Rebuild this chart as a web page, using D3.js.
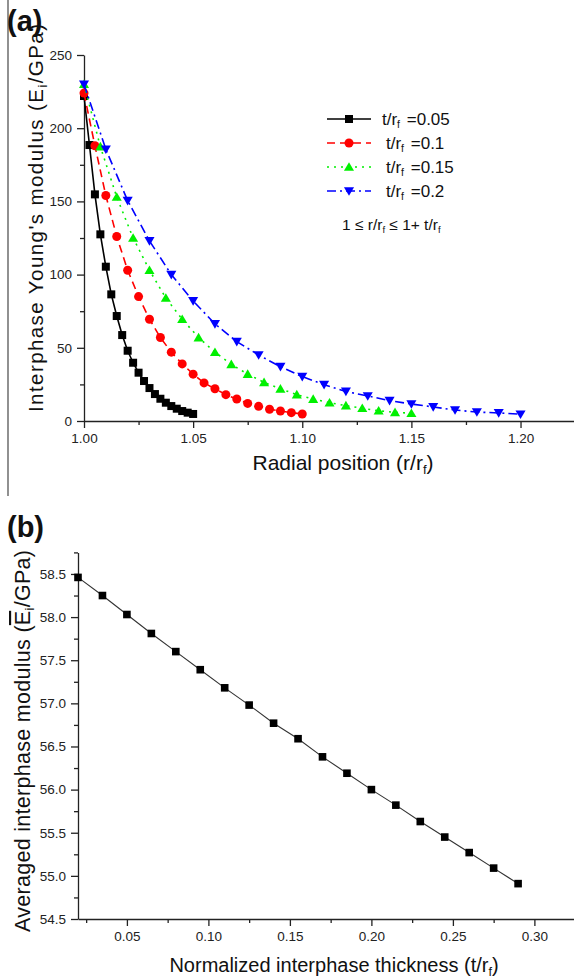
<!DOCTYPE html>
<html>
<head>
<meta charset="utf-8">
<script src="https://cdn.jsdelivr.net/npm/d3@7"></script>
<style>
  body { margin: 0; background: #fff; }
  svg { display: block; font-family: "Liberation Sans", Arial, sans-serif; }
  .axis path, .axis line { stroke: #222; }
  .axis text { fill: #222; }
</style>
</head>
<body>
<script>
// ---- panel (a): interphase Young's modulus vs radial position ----
var xBlack = [1.0000, 1.0025, 1.0050, 1.0075, 1.0100, 1.0125, 1.0150, 1.0175, 1.0200, 1.0225, 1.0250,
              1.0275, 1.0300, 1.0325, 1.0350, 1.0375, 1.0400, 1.0425, 1.0450, 1.0475, 1.0500];
var yBlack = [222, 188.5, 154.8, 127.5, 105.4, 86.5, 71.7, 58.7, 48.0, 39.8, 33.0,
              27.3, 22.5, 18.4, 15.2, 12.5, 10.2, 8.4, 6.8, 5.7, 4.8];

var xRed = [1.000, 1.005, 1.010, 1.015, 1.020, 1.025, 1.030, 1.035, 1.040, 1.045, 1.050,
            1.055, 1.060, 1.065, 1.070, 1.075, 1.080, 1.085, 1.090, 1.095, 1.100];
var yRed = [224, 188, 154, 126, 103, 85, 69.5, 57, 47, 39, 32,
            26, 22, 18, 15, 12, 10, 8, 6.8, 5.7, 4.8];

var xGreen = [1.0000, 1.0075, 1.0150, 1.0225, 1.0300, 1.0375, 1.0450, 1.0525, 1.0600, 1.0675, 1.0750,
              1.0825, 1.0900, 1.0975, 1.1050, 1.1125, 1.1200, 1.1275, 1.1350, 1.1425, 1.1500];
var yGreen = [230, 187.4, 153, 125, 103, 84, 69.5, 57, 47, 38.7, 32,
              26.4, 22, 18, 15, 12.5, 10.5, 8.7, 7.0, 5.9, 5.3];

var xBlue = [1.00, 1.01, 1.02, 1.03, 1.04, 1.05, 1.06, 1.07, 1.08, 1.09, 1.10,
             1.11, 1.12, 1.13, 1.14, 1.15, 1.16, 1.17, 1.18, 1.19, 1.20];
var yBlue = [230, 185.6, 150.5, 123, 100, 82, 66.3, 54.2, 45.1, 37.1, 30.3,
             24.8, 20.2, 17.1, 13.9, 11.6, 9.6, 7.5, 6.1, 5.5, 4.6];

var seriesLabels = ["0.05", "0.1", "0.15", "0.2"];
var topXTicks = [1.00, 1.05, 1.10, 1.15, 1.20];
var topYTicks = [0, 50, 100, 150, 200, 250];

// ---- panel (b): averaged modulus vs normalized thickness ----
var thickness = [0.020, 0.035, 0.050, 0.065, 0.080, 0.095, 0.110, 0.125, 0.140, 0.155,
                 0.170, 0.185, 0.200, 0.215, 0.230, 0.245, 0.260, 0.275, 0.290];
var avgModulus = [58.46, 58.25, 58.03, 57.81, 57.60, 57.39, 57.18, 56.98, 56.77, 56.59,
                  56.38, 56.19, 56.00, 55.82, 55.63, 55.45, 55.27, 55.09, 54.91];
var botXTicks = [0.05, 0.10, 0.15, 0.20, 0.25, 0.30];
var botYTicks = [54.5, 55.0, 55.5, 56.0, 56.5, 57.0, 57.5, 58.0, 58.5];

var svg = d3.select("body").append("svg")
    .attr("width", 574).attr("height", 980);

// scan border line on the left
svg.append("line")
    .attr("x1", 8).attr("x2", 8).attr("y1", 0).attr("y2", 496)
    .attr("stroke", "#555").attr("stroke-width", 1.3);

function addAxes(g, x, y, xTicks, yTicks, xMinor, yMinor, xFmt, yFmt) {
    var h = y.range()[0];
    var x0 = x.range()[0];
    g.append("g").attr("class", "axis")
        .attr("transform", `translate(0,${h})`)
        .call(d3.axisBottom(x).tickValues(xMinor).tickSize(4).tickFormat("").tickSizeOuter(0))
        .call(a => a.select(".domain").remove());
    g.append("g").attr("class", "axis")
        .attr("transform", `translate(0,${h})`)
        .call(d3.axisBottom(x).tickValues(xTicks).tickSize(7).tickPadding(5).tickFormat(xFmt).tickSizeOuter(0))
        .call(a => a.selectAll("text").attr("font-size", 13.5));
    g.append("g").attr("class", "axis")
        .attr("transform", `translate(${x0},0)`)
        .call(d3.axisLeft(y).tickValues(yMinor).tickSize(4).tickFormat("").tickSizeOuter(0))
        .call(a => a.select(".domain").remove());
    g.append("g").attr("class", "axis")
        .attr("transform", `translate(${x0},0)`)
        .call(d3.axisLeft(y).tickValues(yTicks).tickSize(7).tickPadding(5).tickFormat(yFmt).tickSizeOuter(0))
        .call(a => a.selectAll("text").attr("font-size", 13.5));
    g.selectAll(".axis path, .axis line").attr("stroke-width", 1.3);
}

// ================= panel (a) =================
var xA = d3.scaleLinear().domain([1.0, 1.2245]).range([84, 574]);
var yA = d3.scaleLinear().domain([0, 250]).range([421, 55]);
var gA = svg.append("g");

svg.append("text").attr("x", 7).attr("y", 31)
    .attr("font-size", 29).attr("font-weight", "bold").attr("fill", "#111").text("(a)");

addAxes(gA, xA, yA, topXTicks, topYTicks,
    [1.025, 1.075, 1.125, 1.175, 1.225].filter(v => v <= 1.2245),
    [25, 75, 125, 175, 225],
    d3.format(".2f"), d3.format("d"));

var series = [
    {xs: xBlack, ys: yBlack, color: "#000", dash: null, shape: "square"},
    {xs: xRed, ys: yRed, color: "#ff0000", dash: "8,5", shape: "circle"},
    {xs: xGreen, ys: yGreen, color: "#00f000", dash: "2,5", shape: "up"},
    {xs: xBlue, ys: yBlue, color: "#0000ff", dash: "9,4,2,4", shape: "down"}
];

function marker(sel, shape, color, size) {
    if (shape === "square") {
        sel.append("rect").attr("x", -size / 2).attr("y", -size / 2)
            .attr("width", size).attr("height", size).attr("fill", color);
    } else if (shape === "circle") {
        sel.append("circle").attr("r", size / 2 + 0.5).attr("fill", color);
    } else if (shape === "up") {
        var s = size * 0.6;
        sel.append("path").attr("d", `M0,${-s}L${s * 1.05},${s * 0.8}L${-s * 1.05},${s * 0.8}Z`).attr("fill", color);
    } else {
        var s2 = size * 0.6;
        sel.append("path").attr("d", `M0,${s2}L${s2 * 1.05},${-s2 * 0.8}L${-s2 * 1.05},${-s2 * 0.8}Z`).attr("fill", color);
    }
}

var lineA = d3.line().x(d => xA(d[0])).y(d => yA(d[1]));
series.forEach(function(s) {
    var pts = s.xs.map((v, i) => [v, s.ys[i]]);
    gA.append("path").datum(pts)
        .attr("d", lineA).attr("fill", "none")
        .attr("stroke", s.color).attr("stroke-width", 1.6)
        .attr("stroke-dasharray", s.dash);
    gA.append("g").selectAll("g").data(pts).join("g")
        .attr("transform", d => `translate(${xA(d[0])},${yA(d[1])})`)
        .each(function() { marker(d3.select(this), s.shape, s.color, 8); });
});

// legend
var leg = svg.append("g");
series.forEach(function(s, i) {
    var y = 119 + i * 24;
    leg.append("line").attr("x1", 327).attr("x2", 371).attr("y1", y).attr("y2", y)
        .attr("stroke", s.color).attr("stroke-width", 1.6).attr("stroke-dasharray", s.dash);
    marker(leg.append("g").attr("transform", `translate(349,${y})`), s.shape, s.color, 8);
    var t = leg.append("text").attr("x", i === 0 ? 382 : 386).attr("y", y + 6)
        .attr("font-size", 17).attr("fill", "#111");
    t.append("tspan").text("t/r");
    t.append("tspan").attr("font-size", 10.5).attr("dy", 3).text("f");
    t.append("tspan").attr("dy", -3).attr("dx", 2).text(" =" + seriesLabels[i]);
});
var rng = leg.append("text").attr("x", 342).attr("y", 230).attr("font-size", 15.5).attr("fill", "#111");
rng.append("tspan").text("1 \u2264 r/r");
rng.append("tspan").attr("font-size", 9.5).attr("dy", 3).text("f");
rng.append("tspan").attr("dy", -3).text(" \u2264 1+ t/r");
rng.append("tspan").attr("font-size", 9.5).attr("dy", 3).text("f");

// axis titles (a)
var xtA = svg.append("text").attr("x", 343).attr("y", 470).attr("text-anchor", "middle")
    .attr("font-size", 21).attr("fill", "#111");
xtA.append("tspan").text("Radial position (r/r");
xtA.append("tspan").attr("font-size", 13).attr("dy", 4).text("f");
xtA.append("tspan").attr("dy", -4).text(")");

var ytA = svg.append("text").attr("transform", "translate(43,218) rotate(-90)")
    .attr("text-anchor", "middle").attr("font-size", 20.5).attr("fill", "#111")
    .attr("textLength", 388).attr("lengthAdjust", "spacing");
ytA.append("tspan").text("Interphase Young's modulus (E");
ytA.append("tspan").attr("font-size", 13).attr("dy", 4).text("i");
ytA.append("tspan").attr("dy", -4).text("/GPa)");

// ================= panel (b) =================
var xB = d3.scaleLinear().domain([0.02, 0.3243]).range([78, 574]);
var yB = d3.scaleLinear().domain([54.5, 58.75]).range([919, 552.4]);
var gB = svg.append("g");

svg.append("text").attr("x", 7).attr("y", 537)
    .attr("font-size", 29).attr("font-weight", "bold").attr("fill", "#111").text("(b)");

addAxes(gB, xB, yB, botXTicks, botYTicks,
    [0.025, 0.075, 0.125, 0.175, 0.225, 0.275, 0.325].filter(v => v <= 0.3243),
    [54.75, 55.25, 55.75, 56.25, 56.75, 57.25, 57.75, 58.25, 58.75],
    d3.format(".2f"), d3.format(".1f"));

var ptsB = thickness.map((v, i) => [v, avgModulus[i]]);
gB.append("path").datum(ptsB)
    .attr("d", d3.line().x(d => xB(d[0])).y(d => yB(d[1])))
    .attr("fill", "none").attr("stroke", "#333").attr("stroke-width", 1.1);
gB.append("g").selectAll("rect").data(ptsB).join("rect")
    .attr("x", d => xB(d[0]) - 3.8).attr("y", d => yB(d[1]) - 3.8)
    .attr("width", 7.6).attr("height", 7.6).attr("fill", "#000");

var xtB = svg.append("text").attr("x", 334).attr("y", 972).attr("text-anchor", "middle")
    .attr("font-size", 20).attr("fill", "#111");
xtB.append("tspan").text("Normalized interphase thickness (t/r");
xtB.append("tspan").attr("font-size", 12.5).attr("dy", 4).text("f");
xtB.append("tspan").attr("dy", -4).text(")");

var ytB = svg.append("text").attr("transform", "translate(30,741) rotate(-90)")
    .attr("text-anchor", "middle").attr("font-size", 21.5).attr("fill", "#111")
    .attr("textLength", 382).attr("lengthAdjust", "spacing");
ytB.append("tspan").text("Averaged interphase modulus (");
ytB.append("tspan").style("text-decoration", "overline").text("E");
ytB.append("tspan").attr("font-size", 13).attr("dy", 4).text("i");
ytB.append("tspan").attr("dy", -4).text("/GPa)");
</script>
</body>
</html>
